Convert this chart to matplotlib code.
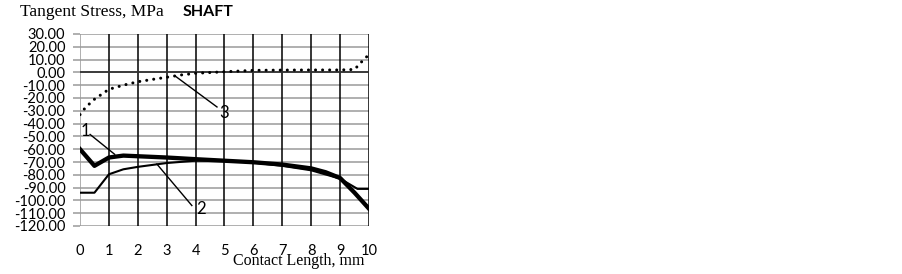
import matplotlib.pyplot as plt
import numpy as np
from matplotlib.ticker import FormatStrFormatter

plt.rcParams['axes.unicode_minus'] = False
sans = ['Liberation Sans Narrow', 'Lato', 'DejaVu Sans']
serif = ['Liberation Serif', 'DejaVu Serif']

# Kurve 1 (dick)
x1 = [0, 0.5, 1, 1.5, 2, 3, 4, 5, 6, 7, 8, 8.5, 9, 9.5, 10]
y1 = [-60, -73, -66.5, -65, -65.5, -66.5, -67.8, -69, -70.2, -72, -75, -78, -82.5, -94, -106.5]

# Kurve 2 (duenn)
x2 = [0, 0.5, 1, 1.5, 2, 3, 4, 5, 6, 7, 8, 9, 9.6, 10]
y2 = [-94, -94, -79.6, -75.7, -73.8, -70.8, -69, -69, -70.5, -73, -76.5, -83, -91, -91]

# Kurve 3 (gepunktet)
x3 = [0, 0.17, 0.46, 1, 1.5, 2, 2.5, 3, 3.5, 4, 5, 6, 7, 8, 9, 9.5, 9.75, 10]
y3 = [-33, -28, -21.6, -13.2, -10, -7.3, -5.5, -3.8, -2, -0.7, 0.5, 1.6, 1.8, 1.9, 1.9, 2.3, 8.4, 14]

fig = plt.figure(figsize=(9.03, 2.74), dpi=100)
ax = fig.add_axes([80 / 903, 1 - 226 / 274, 289 / 903, 192 / 274])

ax.set_xlim(0, 10)
ax.set_ylim(-120, 30)
ax.set_xticks(np.arange(0, 11, 1))
ax.set_yticks(np.arange(-120, 31, 10))
ax.yaxis.set_major_formatter(FormatStrFormatter('%.2f'))

# Gitter
for yv in np.arange(-120, 31, 10):
    ax.axhline(yv, color='#9a9a9a', lw=1.1, zorder=1)
ax.axhline(0, color='#333333', lw=1.3, zorder=1.5)
for xv in range(1, 11):
    ax.axvline(xv, color='black', lw=1.1, zorder=1)
ax.axvline(0, color='#9a9a9a', lw=1.1, zorder=1)

for s in ax.spines.values():
    s.set_visible(False)

ax.tick_params(axis='x', length=0, pad=13, labelsize=10.5)
ax.tick_params(axis='y', length=5, width=1.1, color='#9a9a9a', pad=5.5, labelsize=10.5)
for lab in ax.get_xticklabels() + ax.get_yticklabels():
    lab.set_family(sans)

ax.plot(x1, y1, color='black', lw=3.1, solid_joinstyle='round', zorder=3)
ax.plot(x2, y2, color='black', lw=1.5, zorder=3)
ax.plot(x3, y3, color='black', lw=2.2, ls=(0, (0.01, 2.3)), dash_capstyle='round', zorder=3)

# Beschriftungen 1, 2, 3
ax.plot([0.35, 1.2], [-48.5, -64], color='black', lw=1, zorder=2)
ax.text(0.2, -46, '1', family=sans, fontsize=12, ha='center', va='center')
ax.plot([3.87, 2.66], [-104, -71.6], color='black', lw=1, zorder=2)
ax.text(4.2, -107, '2', family=sans, fontsize=12, ha='center', va='center')
ax.plot([4.74, 3.29], [-27, -2.8], color='black', lw=1, zorder=2)
ax.text(5.0, -32, '3', family=sans, fontsize=12, ha='center', va='center')

fig.text(20 / 903, 1 - 12 / 274, 'Tangent Stress, MPa', family=serif, fontsize=12.5, va='center')
fig.text(183 / 903, 1 - 12 / 274, 'SHAFT', family=sans, fontsize=11.5, fontweight='bold', va='center')
fig.text(299 / 903, 1 - 261 / 274, 'Contact Length, mm', family=serif, fontsize=11.5, ha='center', va='center')

fig.savefig('out.png', dpi=100)
